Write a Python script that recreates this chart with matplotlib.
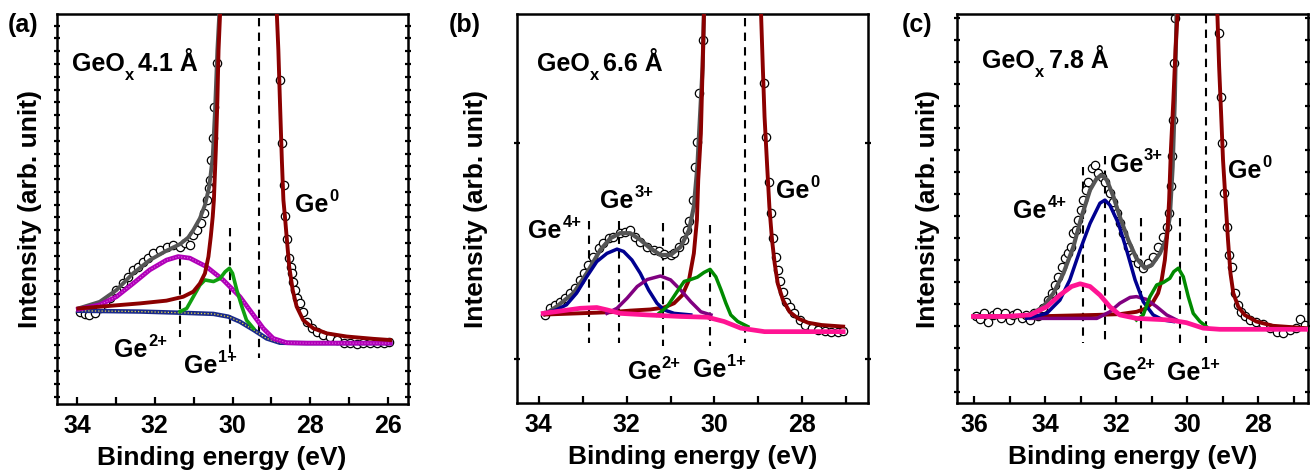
import numpy as np
import matplotlib
matplotlib.use('Agg')
import matplotlib.pyplot as plt

plt.rcParams['font.family'] = ['Liberation Sans', 'DejaVu Sans']
plt.rcParams['font.weight'] = 'bold'

# ---------------- (a) GeOx 4.1 A ----------------
a_data_e = [33.93, 33.80, 33.69, 33.54, 33.42, 33.29, 33.16, 32.99, 32.81, 32.69, 32.56, 32.43,
            32.30, 32.17, 32.04, 31.87, 31.70, 31.53, 31.35, 31.23, 31.10, 31.01, 30.91, 30.82,
            30.74, 30.67, 30.61, 30.58, 30.55, 30.51, 30.48, 30.41,
            28.79, 28.73, 28.67, 28.65, 28.59, 28.54, 28.49, 28.46, 28.43, 28.39, 28.35, 28.26,
            28.18, 28.09, 27.96, 27.83, 27.66, 27.49, 27.32, 27.14, 26.97, 26.80, 26.63, 26.46,
            26.29, 26.11, 25.98]
a_data_i = [23.7, 23.2, 22.8, 23.4, 24.5, 25.8, 27.1, 29.2, 31.0, 32.6, 34.4, 35.2,
            36.5, 37.4, 38.6, 39.5, 40.3, 40.8, 40.3, 41.2, 40.8, 43.3, 44.6, 46.5,
            48.9, 52.3, 55.3, 57.4, 62.6, 68.1, 76.2, 87.4,
            83.1, 67.0, 56.2, 48.2, 42.2, 37.4, 35.2, 33.5, 31.4, 29.2, 27.1, 25.8,
            23.7, 21.1, 19.4, 18.5, 17.7, 17.3, 16.4, 15.6, 15.6, 15.4, 15.6, 15.6,
            15.7, 15.6, 16.0]
a_env_e = [33.97, 33.42, 32.99, 32.56, 32.13, 31.70, 31.35, 31.14, 31.01, 30.84, 30.71, 30.60,
           30.51, 30.45, 30.39, 30.34, 30.20]
a_env_i = [24.5, 26.2, 29.2, 33.5, 36.9, 39.3, 41.0, 42.7, 44.6, 47.6, 51.0, 55.7,
           63.4, 75.4, 90.8, 100.2, 130.0]
a_ge0_e = [33.97, 33.24, 32.38, 31.70, 31.27, 31.01, 30.84, 30.71, 30.62, 30.56, 30.51, 30.48,
           30.43, 30.39, 30.36, 30.32, 29.60, 28.86, 28.82, 28.78, 28.73, 28.69, 28.65, 28.60,
           28.54, 28.45, 28.35, 28.18, 27.92, 27.57, 27.06, 26.37, 25.94]
a_ge0_i = [24.5, 25.1, 25.8, 26.5, 27.5, 28.8, 30.9, 33.5, 37.8, 42.9, 48.0, 52.3,
           65.1, 77.9, 90.8, 100.2, 300.0, 100.2, 90.8, 77.9, 62.6, 52.3, 48.0, 42.1,
           35.2, 29.2, 25.0, 21.5, 19.4, 18.1, 17.3, 16.7, 16.4]
a_ge2_e = [33.97, 33.42, 32.99, 32.56, 32.13, 31.70, 31.40, 31.10, 30.67, 30.24, 29.81, 29.46,
           29.21, 28.95, 28.60, 28.09, 25.94]
a_ge2_i = [24.3, 25.4, 27.5, 30.9, 34.4, 36.9, 37.8, 37.4, 35.2, 31.8, 27.5, 22.8,
           19.4, 16.8, 15.7, 15.6, 15.6]
a_ge1_e = [31.35, 31.18, 31.01, 30.84, 30.71, 30.49, 30.32, 30.19, 30.08, 30.00, 29.89, 29.76,
           29.64, 29.46]
a_ge1_i = [23.7, 24.5, 27.5, 30.5, 31.8, 31.4, 32.2, 33.9, 34.8, 33.5, 29.2, 25.0,
           21.5, 19.4]
a_bg_e = [33.97, 32.38, 31.35, 30.49, 30.11, 29.81, 29.46, 29.12, 28.78, 28.09, 25.94]
a_bg_i = [23.9, 23.7, 23.4, 23.1, 22.4, 21.1, 19.0, 16.8, 15.7, 15.6, 15.6]
a_marks = [31.35, 30.07, 29.33]

# ---------------- (b) GeOx 6.6 A ----------------
b_data_e = [33.86, 33.75, 33.63, 33.52, 33.40, 33.29, 33.18, 33.06, 32.97, 32.87, 32.76, 32.64,
            32.53, 32.41, 32.30, 32.15, 32.03, 31.92, 31.80, 31.69, 31.53, 31.38, 31.27, 31.15,
            31.00, 30.92, 30.81, 30.69, 30.62, 30.58, 30.50, 30.45, 30.40, 30.35, 30.26,
            28.88, 28.82, 28.76, 28.71, 28.66, 28.61, 28.56, 28.50, 28.44, 28.37, 28.29, 28.18,
            28.06, 27.95, 27.79, 27.64, 27.49, 27.34, 27.18, 27.07]
b_data_i = [22.7, 24.4, 25.3, 26.1, 27.0, 28.3, 29.5, 31.7, 33.4, 35.5, 37.7, 39.8,
            41.1, 42.4, 42.8, 43.7, 44.1, 44.5, 42.8, 41.5, 40.2, 39.4, 39.0, 38.4,
            38.1, 38.5, 40.2, 42.0, 44.5, 46.7, 52.2, 60.8, 67.2, 79.6, 93.3,
            82.2, 68.5, 56.9, 48.8, 42.4, 37.7, 34.2, 31.3, 28.7, 26.1, 24.8, 23.1,
            21.4, 20.1, 19.3, 18.8, 18.6, 18.4, 18.4, 18.6]
b_env_e = [33.86, 33.60, 33.21, 32.91, 32.60, 32.37, 32.15, 31.92, 31.69, 31.46, 31.23, 31.00,
           30.77, 30.58, 30.47, 30.39, 30.33, 30.27, 30.24, 30.10]
b_env_i = [22.9, 24.8, 28.3, 33.4, 39.4, 42.4, 43.7, 43.7, 42.0, 39.8, 38.1, 38.1,
           40.2, 44.5, 50.5, 60.8, 73.6, 86.5, 100.2, 130.0]
b_ge0_e = [33.86, 32.37, 31.92, 31.46, 31.15, 30.92, 30.73, 30.58, 30.47, 30.40, 30.37, 30.31,
           30.27, 30.24, 29.60, 28.94, 28.90, 28.86, 28.80, 28.75, 28.69, 28.63, 28.56, 28.44,
           28.29, 28.10, 27.87, 27.56, 27.07]
b_ge0_i = [22.8, 23.4, 23.8, 24.1, 24.6, 25.7, 27.8, 31.7, 38.5, 47.1, 57.4, 69.3,
           86.5, 100.2, 300.0, 100.2, 86.5, 73.6, 60.8, 50.5, 42.0, 36.0, 30.8, 26.5,
           23.5, 21.8, 20.7, 20.1, 19.7]
b_ge3_e = [33.86, 33.60, 33.37, 33.14, 32.91, 32.68, 32.45, 32.22, 32.07, 31.88, 31.69, 31.50,
           31.31, 31.15, 30.92, 30.54]
b_ge3_i = [23.1, 24.0, 25.3, 28.3, 32.5, 36.4, 38.5, 39.6, 39.0, 36.8, 33.4, 29.1,
           25.7, 24.0, 23.1, 22.7]
b_ge2_e = [32.45, 32.22, 31.99, 31.76, 31.53, 31.23, 31.00, 30.77, 30.54, 30.31, 30.08]
b_ge2_i = [23.1, 24.4, 27.0, 30.0, 31.8, 32.7, 31.7, 29.1, 26.1, 23.5, 22.7]
b_ge1_e = [31.31, 31.08, 30.85, 30.69, 30.54, 30.39, 30.24, 30.10, 29.97, 29.85, 29.74, 29.63,
           29.47, 29.24]
b_ge1_i = [22.7, 24.8, 28.7, 31.3, 31.8, 32.4, 33.6, 34.4, 32.5, 29.1, 25.7, 22.7,
           21.0, 19.7]
b_ge4_e = [33.90, 33.44, 33.06, 32.68, 32.45, 32.15, 31.53, 30.77, 30.16, 29.78, 29.40, 28.86,
           28.10, 27.07]
b_ge4_i = [23.1, 23.8, 24.4, 24.6, 24.0, 23.1, 22.7, 22.3, 22.1, 21.0, 19.3, 18.4,
           18.4, 18.4]
b_marks = [32.85, 32.17, 31.17, 30.10, 29.31]

# ---------------- (c) GeOx 7.8 A ----------------
c_data_e = [35.95, 35.84, 35.73, 35.61, 35.48, 35.37, 35.26, 35.14, 35.01, 34.90, 34.79, 34.67,
            34.54, 34.43, 34.32, 34.20, 34.06, 33.92, 33.82, 33.73, 33.63, 33.54, 33.45, 33.35,
            33.29, 33.23, 33.14, 33.07, 33.00, 32.93, 32.85, 32.79, 32.69, 32.60, 32.51, 32.41,
            32.32, 32.18, 32.08, 31.99, 31.90, 31.80, 31.66, 31.52, 31.38, 31.24, 31.10, 30.96,
            30.82, 30.68, 30.58, 30.52, 30.47, 30.43, 30.40, 30.38, 30.34,
            29.10, 29.06, 29.01, 28.96, 28.89, 28.83, 28.75, 28.66, 28.56, 28.47, 28.38, 28.23,
            28.05, 27.86, 27.67, 27.48, 27.30, 27.11, 26.92, 26.81, 26.69]
c_data_i = [22.3, 21.6, 23.1, 21.0, 22.7, 23.5, 21.8, 23.1, 21.4, 22.7, 23.3, 21.8,
            22.7, 21.4, 23.1, 22.4, 24.4, 26.5, 28.3, 30.4, 32.5, 35.1, 37.2, 38.5,
            40.2, 43.7, 44.5, 47.1, 49.7, 52.2, 54.8, 56.9, 60.4, 61.2, 59.2, 58.2,
            56.9, 53.9, 51.8, 48.8, 46.2, 43.7, 40.2, 37.7, 36.0, 34.7, 36.0, 37.7,
            40.2, 42.8, 45.4, 48.8, 55.7, 63.4, 72.8, 87.3, 98.9,
            95.0, 78.8, 66.8, 53.9, 45.4, 38.1, 35.1, 28.3, 25.3, 23.5, 22.4, 21.4,
            21.0, 20.4, 19.3, 18.4, 18.0, 18.7, 19.3, 21.6, 20.1]
c_env_e = [35.98, 34.90, 34.43, 34.06, 33.77, 33.49, 33.21, 32.98, 32.74, 32.55, 32.41, 32.27,
           32.08, 31.90, 31.66, 31.43, 31.19, 31.00, 30.77, 30.60, 30.49, 30.41, 30.35, 30.30,
           30.15]
c_env_i = [22.3, 22.3, 22.7, 24.8, 28.3, 33.4, 40.2, 47.9, 54.8, 57.8, 58.6, 57.4,
           53.1, 47.9, 41.9, 37.2, 34.7, 35.5, 38.5, 42.0, 47.9, 60.8, 77.9, 100.2,
           130.0]
c_ge0_e = [35.98, 33.96, 32.55, 31.90, 31.43, 31.15, 30.96, 30.82, 30.72, 30.63, 30.56, 30.51,
           30.46, 30.39, 30.33, 30.27, 29.70, 29.15, 29.10, 29.04, 28.99, 28.92, 28.85, 28.78,
           28.70, 28.56, 28.38, 28.05, 27.58, 26.66]
c_ge0_i = [22.3, 22.4, 22.7, 22.9, 23.5, 24.4, 26.1, 28.3, 31.7, 36.8, 43.7, 52.2,
           65.1, 77.9, 90.8, 100.2, 300.0, 100.2, 86.5, 73.6, 62.5, 52.2, 42.0, 33.4,
           28.3, 24.8, 22.7, 21.0, 19.9, 19.3]
c_ge3_e = [34.53, 33.96, 33.59, 33.31, 33.02, 32.74, 32.46, 32.32, 32.18, 31.94, 31.71, 31.47,
           31.24, 30.96, 30.68, 30.39]
c_ge3_i = [21.8, 23.1, 26.5, 31.7, 39.4, 46.2, 51.4, 52.2, 50.9, 46.2, 39.4, 31.7,
           26.1, 22.7, 21.4, 21.0]
c_ge2_e = [34.43, 32.55, 32.18, 31.90, 31.61, 31.43, 31.15, 30.86, 30.58, 30.30]
c_ge2_i = [21.8, 21.8, 23.5, 25.7, 27.2, 27.4, 26.7, 24.8, 22.7, 21.4]
c_ge1_e = [31.43, 31.24, 31.05, 30.86, 30.68, 30.49, 30.38, 30.25, 30.11, 29.97, 29.83, 29.64,
           29.46]
c_ge1_i = [21.4, 22.7, 27.4, 30.4, 31.0, 32.1, 33.8, 34.7, 32.5, 27.4, 23.1, 21.0,
           19.7]
c_ge4_e = [36.03, 35.18, 34.43, 33.96, 33.59, 33.26, 33.02, 32.74, 32.46, 32.18, 31.90, 31.43,
           30.49, 30.02, 29.55, 29.08, 26.64]
c_ge4_i = [22.3, 22.3, 22.7, 24.8, 27.8, 30.0, 30.7, 30.0, 27.8, 24.8, 22.7, 21.8,
           21.4, 20.7, 19.3, 19.0, 19.0]
c_marks = [32.93, 32.32, 31.31, 30.19, 29.47]

FS = 18
fig = plt.figure(figsize=(13.1, 4.73), dpi=100)
ax_a = fig.add_axes([0.0435, 0.1459, 0.268, 0.8245])
ax_b = fig.add_axes([0.3949, 0.1474, 0.2675, 0.823])
ax_c = fig.add_axes([0.7303, 0.1474, 0.268, 0.823])


def frame(ax, xlim, xmajor, xminor, yticks, ylab_x, xlab_x):
    ax.set_xlim(*xlim)
    ax.set_ylim(0, 100)
    ax.set_xticks(xmajor)
    ax.set_xticks(xminor, minor=True)
    ax.set_xticklabels([str(v) for v in xmajor], fontsize=FS, fontweight='bold')
    ax.set_yticks(yticks)
    ax.set_yticklabels([])
    ax.tick_params(axis='x', which='both', direction='in', length=5, width=1.6, pad=7, top=False)
    ax.tick_params(axis='y', which='both', direction='inout', length=4, width=1.6,
                   left=True, right=True)
    for s in ax.spines.values():
        s.set_linewidth(1.8)
    ax.set_xlabel('Binding energy (eV)', fontsize=FS + 1, fontweight='bold')
    ax.set_ylabel('Intensity (arb. unit)', fontsize=FS + 1, fontweight='bold')
    ax.xaxis.set_label_coords(xlab_x, -0.108)
    ax.yaxis.set_label_coords(ylab_x, 0.5)


def dashes(ax, xs, y0s, y1s):
    for x, y0, y1 in zip(xs, y0s, y1s):
        ax.plot([x, x], [y0, y1], color='black', lw=1.5, ls=(0, (4, 3)), zorder=1.5)


def circles(ax, e, i):
    ax.plot(e, i, 'o', ms=6, mfc='white', mec='black', mew=0.9, zorder=2)


def ge(ax, x, y, sup):
    # "Ge" with a small raised charge label
    t = ax.text(x, y, 'Ge', fontsize=FS, fontweight='bold')
    ax.annotate(sup, xy=(1, 1), xycoords=t, xytext=(0.5, 3), textcoords='offset points',
                fontsize=FS * 0.66, fontweight='bold', ha='left', va='top')


def title(ax, x, y, thick):
    t = ax.text(x, y, 'GeO', fontsize=FS, fontweight='bold')
    s = ax.annotate('x', xy=(1, 0), xycoords=t, xytext=(0.5, -5), textcoords='offset points',
                    fontsize=FS * 0.66, fontweight='bold', ha='left', va='bottom')
    ax.annotate(thick, xy=(1, 0), xycoords=(s, t), xytext=(3, 0), textcoords='offset points',
                fontsize=FS, fontweight='bold', ha='left', va='bottom')


# (a)
ax = ax_a
circles(ax, a_data_e, a_data_i)
dashes(ax, a_marks, [45.0, 45.0, 98.9], [17.3, 11.7, 11.7])
ax.plot(a_env_e, a_env_i, color='#555555', lw=2.8, zorder=3)
ax.plot(a_bg_e, a_bg_i, color='#1a2a8a', lw=3.2, zorder=3)
ax.plot(a_bg_e, a_bg_i, color='#f0e040', lw=0.9, ls=':', zorder=3.1)
ax.plot(a_ge2_e, a_ge2_i, color='#b000b8', lw=3.4, zorder=3.2)
ax.plot(a_ge2_e, a_ge2_i, color='#e060e0', lw=0.8, ls=':', zorder=3.3)
ax.plot(a_ge1_e, a_ge1_i, color='#10a010', lw=2.6, zorder=3.4)
ax.plot(a_ge0_e, a_ge0_i, color='#8b0000', lw=2.8, zorder=3.5)
title(ax, 34.14, 85.4, '4.1 Å')
ge(ax, 28.39, 49.3, '0')
ge(ax, 33.05, 12.1, '2+')
ge(ax, 31.24, 7.9, '1+')
frame(ax, (34.52, 25.48), [34, 32, 30, 28, 26], [33, 31, 29, 27],
      np.arange(1.9, 100, 3.28), -0.043, 0.47)

# (b)
ax = ax_b
circles(ax, b_data_e, b_data_i)
dashes(ax, b_marks, [46.7, 46.7, 46.2, 45.8, 98.9], [15.4, 15.4, 14.6, 14.6, 15.4])
ax.plot(b_env_e, b_env_i, color='#555555', lw=3.0, zorder=3)
ax.plot(b_ge0_e, b_ge0_i, color='#8b0000', lw=2.8, zorder=3.1)
ax.plot(b_ge3_e, b_ge3_i, color='#000090', lw=2.5, zorder=3.2)
ax.plot(b_ge2_e, b_ge2_i, color='#800080', lw=2.5, zorder=3.3)
ax.plot(b_ge1_e, b_ge1_i, color='#008a00', lw=2.5, zorder=3.4)
ax.plot(b_ge4_e, b_ge4_i, color='#ff1493', lw=3.4, zorder=3.5)
title(ax, 34.05, 85.4, '6.6 Å')
ge(ax, 32.60, 50.1, '3+')
ge(ax, 34.24, 42.4, '4+')
ge(ax, 28.60, 52.7, '0')
ge(ax, 31.98, 6.2, '2+')
ge(ax, 30.50, 6.7, '1+')
frame(ax, (34.49, 26.51), [34, 32, 30, 28], [33, 31, 29, 27],
      [11.4, 66.9], -0.084, 0.5)

# (c)
ax = ax_c
circles(ax, c_data_e, c_data_i)
dashes(ax, c_marks, [60.8, 63.4, 47.5, 47.5, 99.7], [15.4, 15.4, 15.4, 15.4, 15.4])
ax.plot(c_env_e, c_env_i, color='#555555', lw=3.0, zorder=3)
ax.plot(c_ge0_e, c_ge0_i, color='#8b0000', lw=2.8, zorder=3.1)
ax.plot(c_ge2_e, c_ge2_i, color='#800080', lw=2.5, zorder=3.2)
ax.plot(c_ge3_e, c_ge3_i, color='#000090', lw=2.5, zorder=3.3)
ax.plot(c_ge1_e, c_ge1_i, color='#008a00', lw=2.5, zorder=3.4)
ax.plot(c_ge4_e, c_ge4_i, color='#ff1493', lw=3.4, zorder=3.5)
title(ax, 35.79, 86.0, '7.8 Å')
ge(ax, 32.18, 59.5, '3+')
ge(ax, 34.90, 47.5, '4+')
ge(ax, 28.85, 57.8, '0')
ge(ax, 32.38, 6.0, '2+')
ge(ax, 30.58, 6.0, '1+')
frame(ax, (36.5, 26.6), [36, 34, 32, 30, 28], [35, 33, 31, 29, 27],
      np.arange(3.0, 100, 5.65), -0.048, 0.5)

for lab, x in [('(a)', 8), ('(b)', 449), ('(c)', 902)]:
    fig.text(x / 1310, 1 - 25 / 473, lab, fontsize=FS, fontweight='bold', va='center')

fig.savefig('out.png', dpi=100)
